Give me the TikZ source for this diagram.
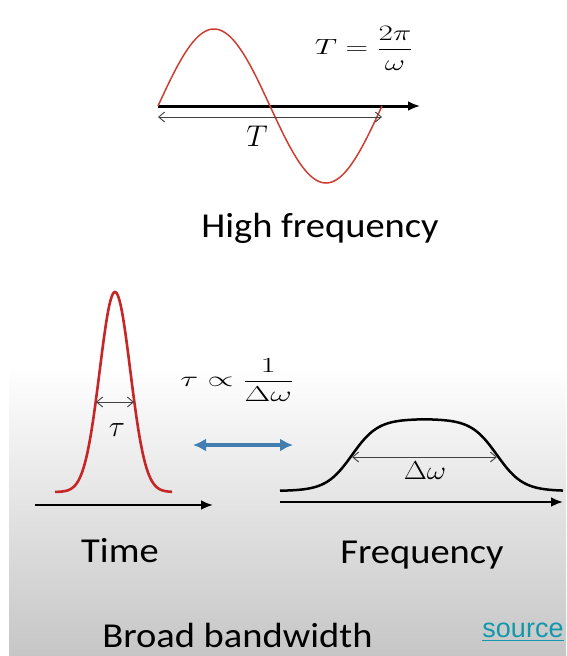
\RequirePackage{fix-cm}
\documentclass[tikz,border=0pt]{standalone}
\usepackage[no-math]{fontspec}
\setmainfont{Carlito}[FakeStretch=1.1]
\newfontfamily\srcfont{Liberation Sans}
\usepackage{graphicx,amsmath,xcolor}
\definecolor{wavered}{RGB}{205,62,50}
\definecolor{pulsered}{RGB}{200,38,38}
\definecolor{linkblue}{RGB}{66,126,176}
\definecolor{srcteal}{RGB}{18,152,172}
\definecolor{bggray}{RGB}{198,198,198}
\usetikzlibrary{arrows.meta,calc}
\tikzset{
  axisline/.style={line width=3pt, -{Latex[length=12pt,width=10pt]}},
  spanline/.style={line width=0.9pt, black!75, {Straight Barb[length=6pt,width=10pt]}-{Straight Barb[length=6pt,width=10pt]}},
  waveline/.style={wavered, line width=1.5pt, line join=round},
  caption/.style={anchor=base, inner sep=0pt, font=\fontsize{35}{40}\selectfont},
  mathlbl/.style={inner sep=0pt, font=\fontsize{30}{34}\selectfont}
}
\begin{document}
\begin{tikzpicture}[x=1pt,y=-1pt]
  \useasboundingbox (0,0) rectangle (566,656);
  % Background
  \fill[white] (0,0) rectangle (566,656);
  \shade[top color=white, bottom color=bggray] (9,365) rectangle (566,656);

  % High frequency
  \coordinate (hfO) at (158,106);
  \coordinate (hfE) at (420,106);
  \coordinate (hfA) at (158,117);
  \coordinate (hfB) at (382,117);
  \draw[axisline] (hfO) -- (hfE);
  \draw[waveline] plot[domain=0:360, samples=121] ({158+\x/360*224},{106-77*sin(\x)});
  \draw[spanline] (hfA) -- (hfB);
  \node[mathlbl] (tlbl) at (257,136) {$T$};
  \node[inner sep=0pt, font=\fontsize{22}{26}\selectfont] (tform) at (364,48) {\scalebox{1.42}[1]{$\displaystyle T=\frac{2\pi}{\omega}$}};
  \node[caption] (hflbl) at (320,237) {High frequency};

  % Time domain pulse
  \coordinate (tmO) at (35,505);
  \coordinate (tmE) at (213,505);
  \coordinate (tauA) at (96,402);
  \coordinate (tauB) at (134,402);
  \draw[axisline, line width=2.8pt] (tmO) -- (tmE);
  \draw[pulsered, line width=2.6pt, line join=round] plot[domain=55:172, samples=150] (\x,{492-200*exp(-(\x-115)*(\x-115)/468.18)});
  \draw[spanline] (tauA) -- (tauB);
  \node[mathlbl] (taulbl) at (117,430) {$\tau$};
  \node[caption] (timelbl) at (120,562) {Time};

  % Relation
  \node[inner sep=0pt, font=\fontsize{21.5}{26}\selectfont] (rel) at (237,380) {\scalebox{1.55}[1]{$\displaystyle \tau\propto\frac{1}{\Delta\omega}$}};
  \coordinate (dblL) at (193,445);
  \coordinate (dblR) at (293,445);
  \draw[linkblue, line width=4pt, {Latex[length=13pt,width=13pt]}-{Latex[length=13pt,width=13pt]}] (dblL) -- (dblR);

  % Frequency domain spectrum
  \coordinate (frO) at (280,502);
  \coordinate (frE) at (563,502);
  \coordinate (dwA) at (352,457);
  \coordinate (dwB) at (497,457);
  \draw[axisline, line width=2.8pt] (frO) -- (frE);
  \draw[line width=2.5pt, line join=round] plot[domain=280:563, samples=200] (\x,{491-72/(1+exp((abs(\x-424.5)-72.5)/13))});
  \draw[spanline] (dwA) -- (dwB);
  \node[inner sep=0pt, font=\fontsize{26}{30}\selectfont] (dwlbl) at (425,471) {\scalebox{1.15}[1]{$\Delta\omega$}};
  \node[caption] (freqlbl) at (422,563) {Frequency};

  % Footer
  \node[caption] (bblbl) at (237.5,647) {Broad bandwidth};
  \node[anchor=base, inner sep=0pt, text=srcteal, font=\srcfont\fontsize{27}{30}\selectfont] (src) at (523,637) {\underline{source}};
\end{tikzpicture}
\end{document}
